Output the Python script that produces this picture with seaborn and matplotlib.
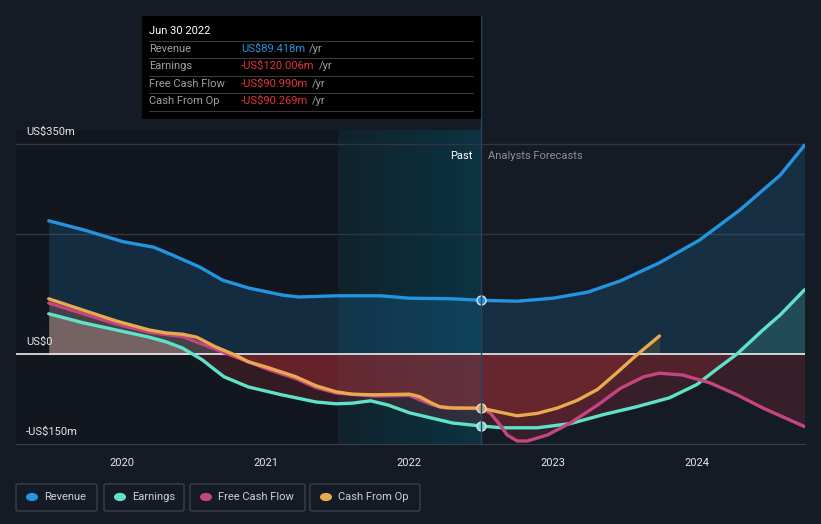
import numpy as np
import pandas as pd
import seaborn as sns
import matplotlib.pyplot as plt
from matplotlib.patches import Rectangle, FancyBboxPatch, Circle
from matplotlib.lines import Line2D
from matplotlib.colors import LinearSegmentedColormap

## Data (US$m, x in decimal years)

rev_x = [2019.49, 2019.73, 2020.01, 2020.22, 2020.35, 2020.54, 2020.70, 2020.88, 2021.12, 2021.23, 2021.49, 2021.80,
         2022.0, 2022.30, 2022.5, 2022.75, 2023.0, 2023.24, 2023.47, 2023.74, 2024.02, 2024.30, 2024.58, 2024.75]
rev_y = [222, 207, 187, 178, 165, 145, 123, 110, 98, 95, 97, 97,
         93, 92, 89.4, 88, 93, 103, 122, 152, 190, 240, 298, 348]

earn_x = [2019.49, 2019.73, 2019.96, 2020.19, 2020.31, 2020.42, 2020.49, 2020.56, 2020.65, 2020.71, 2020.88, 2021.11,
          2021.35, 2021.49, 2021.6, 2021.73, 2021.85, 2022.0, 2022.3, 2022.5,
          2022.65, 2022.89, 2023.12, 2023.35, 2023.58, 2023.81, 2024.0, 2024.14, 2024.28, 2024.46, 2024.58, 2024.75]
earn_y = [67, 52, 40, 28, 20, 10, 0, -10, -27, -38, -55, -68,
          -80, -83, -82, -78, -85, -98, -115, -120,
          -123, -123, -116, -101, -88, -73, -51, -25, 0, 40, 65, 107]

fcf_x = [2019.49, 2019.73, 2019.96, 2020.19, 2020.42, 2020.65, 2020.79, 2021.02, 2021.21, 2021.35, 2021.49, 2021.75,
         2022.0, 2022.15, 2022.25, 2022.5,
         2022.56, 2022.63, 2022.68, 2022.75, 2022.82, 2022.96, 2023.12, 2023.31, 2023.47, 2023.63, 2023.74, 2023.90,
         2024.09, 2024.28, 2024.46, 2024.75]
fcf_y = [85, 67, 50, 36, 29, 8, -5, -26, -41, -56, -65, -70,
         -69, -84, -90, -91,
         -98, -118, -135, -145, -145, -135, -115, -85, -57, -38, -32, -35,
         -48, -68, -90, -121]

cfo_x = [2019.49, 2019.73, 2019.96, 2020.19, 2020.31, 2020.42, 2020.52, 2020.65, 2020.79, 2020.88, 2021.02, 2021.21,
         2021.35, 2021.49, 2021.6, 2021.75, 2022.0, 2022.07, 2022.14, 2022.21, 2022.3, 2022.5,
         2022.61, 2022.75, 2022.89, 2023.03, 2023.17, 2023.31, 2023.44, 2023.58, 2023.74]
cfo_y = [92, 73, 55, 40, 35, 33, 28, 12, -2, -13, -23, -38,
         -53, -63, -67, -68, -67, -71, -80, -88, -90, -90.3,
         -96, -103, -99, -90, -77, -59, -32, -2, 30]

years = [2020, 2021, 2022, 2023, 2024]
past_end = 2022.5

series = [
    ('Revenue', rev_x, rev_y, '#2394df'),
    ('Earnings', earn_x, earn_y, '#5fe3c8'),
    ('Free Cash Flow', fcf_x, fcf_y, '#c4457f'),
    ('Cash From Op', cfo_x, cfo_y, '#e8a94f'),
]

tooltip_rows = [
    ('Revenue', 'US$89.418m', '#2394df'),
    ('Earnings', '-US$120.006m', '#e8333b'),
    ('Free Cash Flow', '-US$90.990m', '#e8333b'),
    ('Cash From Op', '-US$90.269m', '#e8333b'),
]

## Style
bg = '#151b24'
sns.set_style('dark', {'axes.facecolor': bg, 'figure.facecolor': bg})
plt.rcParams['font.family'] = ['Roboto', 'DejaVu Sans']

W, H = 821, 524
fig = plt.figure(figsize=(W / 100, H / 100), dpi=100)
fig.patch.set_facecolor(bg)

def fx(px):
    return px / W

def fy(py):
    return 1 - py / H

ax = fig.add_axes([fx(16), fy(444), fx(805) - fx(16), fy(130) - fy(444)])
ax.set_facecolor(bg)
xmin, xmax = 2019.262, 2024.753
ymin, ymax = -150, 373.3
ax.set_xlim(xmin, xmax)
ax.set_ylim(ymin, ymax)

# Darker past area and highlighted last year band
ax.axvspan(xmin, 2021.5, color='#0e1218', alpha=0.4, lw=0, zorder=0)
cmap = LinearSegmentedColormap.from_list('band', ['#10242e', '#0b3646'])
grad = np.linspace(0, 1, 100).reshape(1, -1)
ax.imshow(grad, extent=[2021.5, past_end, ymin, ymax], aspect='auto', cmap=cmap, zorder=0.5, alpha=0.9)

# Grid lines
for g in [350, 200]:
    ax.axhline(g, color='#303640', lw=1, zorder=1)

# Fills
for name, xs, ys, col in series:
    xs = np.array(xs)
    ys = np.array(ys, dtype=float)
    pos = np.maximum(ys, 0)
    neg = np.minimum(ys, 0)
    if name == 'Revenue':
        ax.fill_between(xs, pos, 0, color=col, alpha=0.17, lw=0, zorder=2)
    elif name == 'Earnings':
        past = xs <= past_end
        ax.fill_between(xs[past], pos[past], 0, color='#c8b8a8', alpha=0.35, lw=0, zorder=2)
        ax.fill_between(xs[~past], pos[~past], 0, color=col, alpha=0.16, lw=0, zorder=2)
    else:
        ax.fill_between(xs, pos, 0, color=col, alpha=0.14, lw=0, zorder=2)
    ax.fill_between(xs, neg, 0, color='#d9343d', alpha=0.17, lw=0, zorder=2)

# Lines
for name, xs, ys, col in series:
    sns.lineplot(x=xs, y=ys, color=col, linewidth=2.4, ax=ax, zorder=4,
                 solid_joinstyle='round', solid_capstyle='round')

ax.axhline(0, color='white', lw=1.1, zorder=3)

# Markers at the last reported date
ax.scatter([past_end], [rev_y[rev_x.index(past_end)]], s=42, color='#2394df', edgecolor='#e0e0e0', lw=1, zorder=6)
ax.scatter([past_end], [earn_y[earn_x.index(past_end)]], s=42, color='#5fe3c8', edgecolor='#e0e0e0', lw=1, zorder=6)
ax.scatter([past_end], [cfo_y[cfo_x.index(past_end)]], s=42, color='#c8a26a', edgecolor='#e0e0e0', lw=1, zorder=6)

# Axes styling
for s in ['top', 'right', 'left']:
    ax.spines[s].set_visible(False)
ax.spines['bottom'].set_color('#3a404a')
ax.set_xticks(years)
ax.set_xticklabels([str(y) for y in years])
ax.set_yticks([])
ax.tick_params(axis='x', colors='#3a404a', length=4, width=1, labelcolor='#e6e6e6', labelsize=8, pad=6)
ax.set_xlabel('')
ax.set_ylabel('')
ax.grid(False)

# Y labels
ytr = ax.get_yaxis_transform()
ax.text(0.013, 370, 'US$350m', transform=ytr, color='#e6e6e6', fontsize=8, va='center', zorder=7)
ax.text(0.013, 20, 'US$0', transform=ytr, color='#e6e6e6', fontsize=8, va='center', zorder=7)
ax.text(0.013, -130, '-US$150m', transform=ytr, color='#e6e6e6', fontsize=8, va='center', zorder=7)

# Past / forecast labels
ax.text(past_end - 0.06, 330, 'Past', color='#ffffff', fontsize=8, ha='right', va='center', zorder=7)
ax.text(past_end + 0.05, 330, 'Analysts Forecasts', color='#8a8f98', fontsize=8, ha='left', va='center', zorder=7)

# Vertical line at the last reported date
fig.add_artist(Line2D([fx(481), fx(481)], [fy(16), fy(444)], color='#24465a', lw=1, transform=fig.transFigure, zorder=1))

# Tooltip box
fig.add_artist(Rectangle((fx(142), fy(119)), fx(481) - fx(142), fy(16) - fy(119), transform=fig.transFigure,
                         facecolor='#000000', edgecolor='none', zorder=10))
fig.text(fx(149), fy(31), 'Jun 30 2022', color='white', fontsize=8, va='center', zorder=11)
row_y = [49, 66, 84, 101]
for (lab, val, col), ry in zip(tooltip_rows, row_y):
    fig.text(fx(149), fy(ry), lab, color='#a0a0a0', fontsize=8, va='center', zorder=11)
    t = fig.text(fx(241), fy(ry), val, color=col, fontsize=8, va='center', zorder=11)
    fig.canvas.draw()
    bb = t.get_window_extent()
    fig.text(bb.x1 / W + fx(4), fy(ry), '/yr', color='#a0a0a0', fontsize=8, va='center', zorder=11)
for ly in [41, 58, 76, 93, 111]:
    fig.add_artist(Line2D([fx(149), fx(473)], [fy(ly), fy(ly)], color='#3a3a3a', lw=0.8, transform=fig.transFigure, zorder=11))

# Legend boxes
legend_boxes = [(16, 97), (104, 184), (190, 305), (310, 420)]
for (name, xs, ys, col), (x0, x1) in zip(series, legend_boxes):
    fig.add_artist(FancyBboxPatch((fx(x0), fy(511)), fx(x1) - fx(x0), fy(484) - fy(511),
                                  boxstyle='round,pad=0,rounding_size=0.003', transform=fig.transFigure,
                                  facecolor='none', edgecolor='#3a404a', lw=1))
    fig.add_artist(Circle((fx(x0 + 16), fy(497)), 0.0065, transform=fig.transFigure, color=col))
    fig.text(fx(x0 + 28), fy(497), name, color='#d0d0d0', fontsize=8, va='center')

plt.savefig('out.png', dpi=100, facecolor=bg)
